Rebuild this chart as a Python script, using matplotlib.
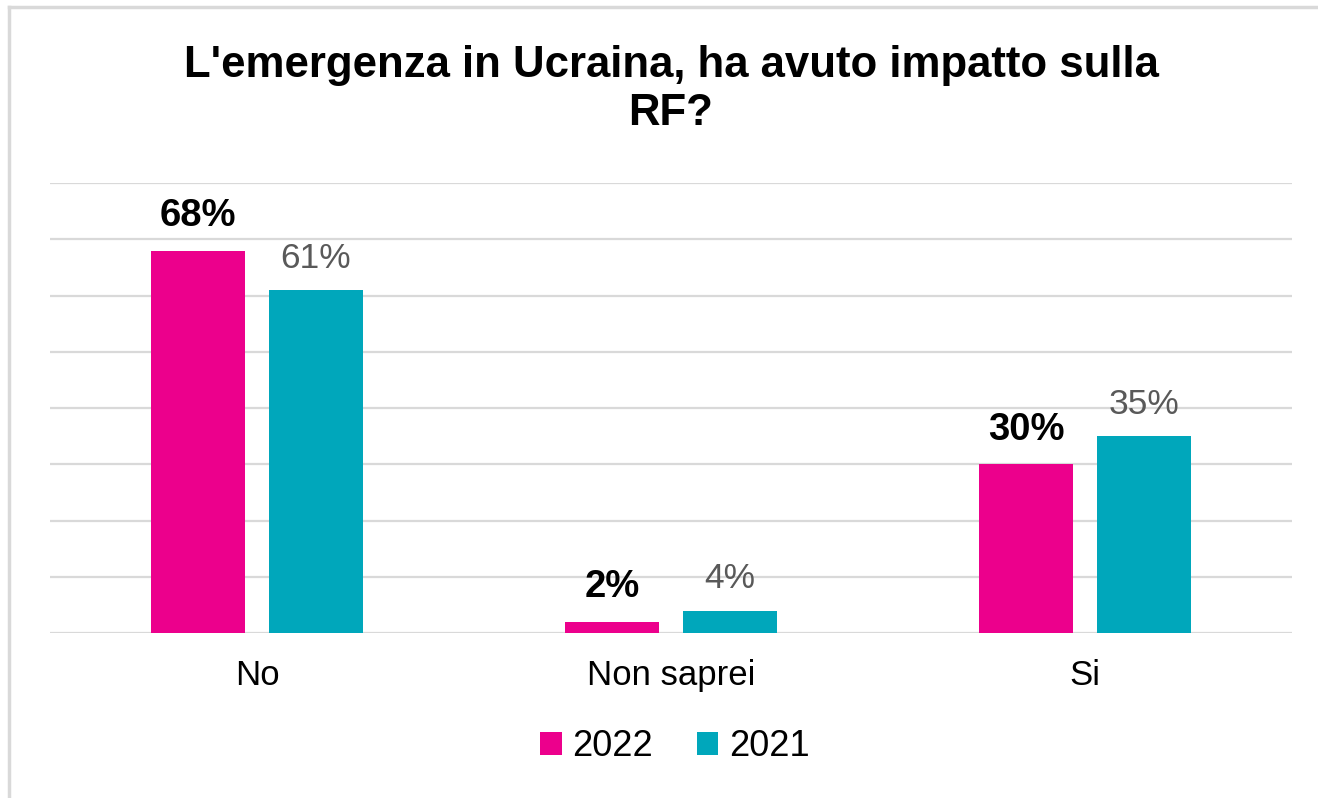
import matplotlib.pyplot as plt
import numpy as np

plt.rcParams['font.family'] = ['Liberation Sans', 'DejaVu Sans']

# dati
categories = ['No', 'Non saprei', 'Si']
years = ['2022', '2021']
values_2022 = [68, 2, 30]
values_2021 = [61, 4, 35]
title = "L'emergenza in Ucraina, ha avuto impatto sulla\nRF?"

col_2022 = '#EC008C'
col_2021 = '#00A7BB'

fig = plt.figure(figsize=(13.18, 7.98), dpi=100)
ax = fig.add_axes([50 / 1318, 1 - 633 / 798, 1242 / 1318, 450 / 798])

x = np.arange(len(categories))
w = 0.225
off = 0.1425
b1 = ax.bar(x - off, values_2022, w, color=col_2022, label=years[0], zorder=3)
b2 = ax.bar(x + off, values_2021, w, color=col_2021, label=years[1], zorder=3)

for rect, v in zip(b1, values_2022):
    ax.annotate(f'{v}%', (rect.get_x() + rect.get_width() / 2, v),
                xytext=(0, 12), textcoords='offset points', ha='center', va='bottom',
                fontsize=27.5, fontweight='bold', color='black')
for rect, v in zip(b2, values_2021):
    ax.annotate(f'{v}%', (rect.get_x() + rect.get_width() / 2, v),
                xytext=(0, 11), textcoords='offset points', ha='center', va='bottom',
                fontsize=25.5, color='#595959')

ax.set_xlim(-0.5, 2.5)
ax.set_ylim(0, 80)
ax.set_yticks(np.arange(0, 81, 10))
ax.yaxis.grid(True, color='#D9D9D9', linewidth=1.6, zorder=0)
ax.tick_params(axis='y', left=False, labelleft=False)
ax.set_xticks(x)
ax.set_xticklabels(categories, fontsize=25)
ax.tick_params(axis='x', bottom=False, pad=15)
for s in ax.spines.values():
    s.set_visible(False)

fig.text(671 / 1318, 1 - 45 / 798, title, ha='center', va='top', fontsize=31.5,
         fontweight='bold', linespacing=1.22)

fig.legend(loc='center', bbox_to_anchor=(0.512, 1 - 747 / 798), ncol=2,
           frameon=False, fontsize=26, handlelength=0.6, handleheight=0.6,
           handletextpad=0.3, columnspacing=1.2)

# cornice grigia
fig.add_artist(plt.Line2D([9 / 1318, 9 / 1318], [0, 1 - 7 / 798], color='#D9D9D9',
                          linewidth=2.5, transform=fig.transFigure))
fig.add_artist(plt.Line2D([9 / 1318, 1], [1 - 7 / 798, 1 - 7 / 798], color='#D9D9D9',
                          linewidth=2.5, transform=fig.transFigure))

fig.savefig('out.png', dpi=100, facecolor='white')
